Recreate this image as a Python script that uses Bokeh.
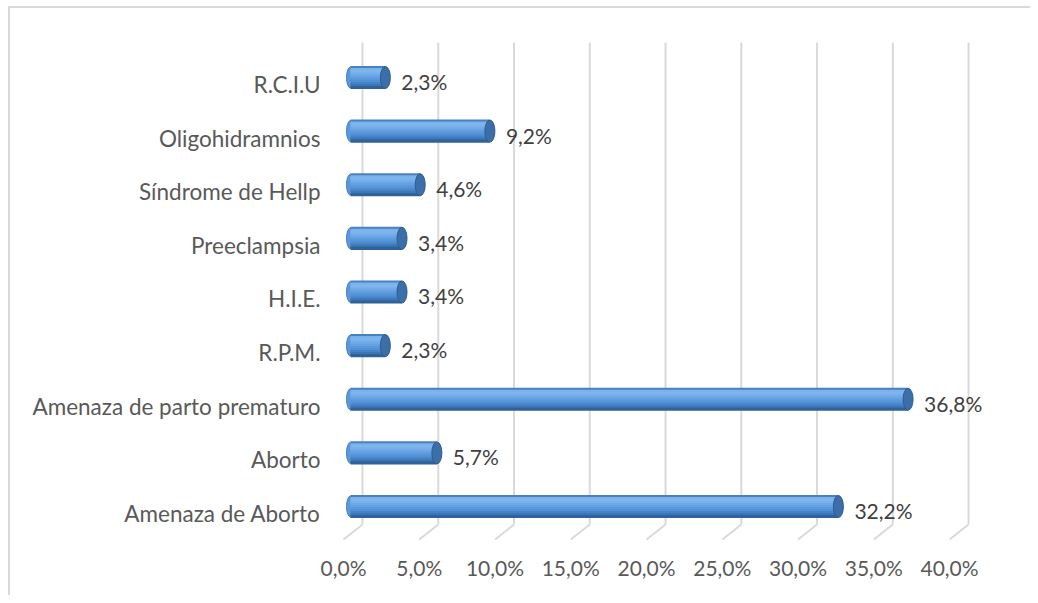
from bokeh.plotting import figure
from bokeh.models import Range1d, LinearAxis, FixedTicker, ColumnDataSource
from bokeh.core.properties import value
from bokeh.embed import file_html
from bokeh.resources import INLINE

# ---- data ----
categories = ["Amenaza de Aborto", "Aborto", "Amenaza de parto prematuro", "R.P.M.",
              "H.I.E.", "Preeclampsia", "Síndrome de Hellp", "Oligohidramnios", "R.C.I.U"]
values = [32.2, 5.7, 36.8, 2.3, 3.4, 3.4, 4.6, 9.2, 2.3]
x_ticks = [0, 5, 10, 15, 20, 25, 30, 35, 40]

def pct(v):
    return f"{v:.1f}%".replace(".", ",")

FONT = "Lato"
ROW_PX = 53.625
PX_PER_UNIT = 15.15

pos = list(range(len(categories)))

x_start, x_end = -0.924, 43.56
y_start, y_end = -0.727, 8.876
p = figure(width=1030, height=595, output_backend="svg", toolbar_location=None,
           x_range=Range1d(x_start, x_end), y_range=Range1d(y_start, y_end),
           min_border_left=336, min_border_right=20, min_border_top=30, min_border_bottom=50,
           x_axis_location=None, y_axis_location=None)
p.outline_line_color = None
p.xgrid.visible = False
p.ygrid.visible = False
p.background_fill_color = "white"
p.border_fill_color = None
line_bg = "linear-gradient(#d9d9d9,#d9d9d9)"
p.styles = {"background": f"{line_bg} 8px 6px / 2px 600px no-repeat, "
                          f"{line_bg} 8px 6px / 1030px 2px no-repeat, white"}

# ---- gridlines with 3D floor (back wall -> front) ----
back_shift = 12 / PX_PER_UNIT
front_shift = -7 / PX_PER_UNIT
y_top = (506 - 42) / ROW_PX
y_wall = (506 - 524) / ROW_PX
y_front = (506 - 539) / ROW_PX
gx_back = [t + back_shift for t in x_ticks]
gx_front = [t + front_shift for t in x_ticks]
p.segment(x0=gx_back, y0=[y_top] * len(x_ticks), x1=gx_back, y1=[y_wall] * len(x_ticks),
          line_color="#d9d9d9", line_width=2)
p.segment(x0=gx_back, y0=[y_wall] * len(x_ticks), x1=gx_front, y1=[y_front] * len(x_ticks),
          line_color="#d9d9d9", line_width=2)

# ---- x axis labels (front plane) ----
p.extra_x_ranges = {"front": Range1d(x_start - front_shift, x_end - front_shift)}
xaxis = LinearAxis(x_range_name="front", ticker=FixedTicker(ticks=x_ticks))
xaxis.major_label_overrides = {t: pct(t) for t in x_ticks}
xaxis.axis_line_color = None
xaxis.major_tick_line_color = None
xaxis.minor_tick_line_color = None
xaxis.major_label_text_font = FONT
xaxis.major_label_text_font_size = "21px"
xaxis.major_label_text_color = "#595959"
xaxis.major_label_standoff = 3
p.add_layout(xaxis, "below")

# ---- y axis (categories), labels sit slightly below bar centres ----
lab_shift = 7 / ROW_PX
p.extra_y_ranges = {"lab": Range1d(y_start + lab_shift, y_end + lab_shift)}
yaxis = LinearAxis(y_range_name="lab", ticker=FixedTicker(ticks=pos))
yaxis.major_label_overrides = {i: c for i, c in zip(pos, categories)}
yaxis.axis_line_color = None
yaxis.major_tick_line_color = None
yaxis.minor_tick_line_color = None
yaxis.major_label_text_font = FONT
yaxis.major_label_text_font_size = "22.5px"
yaxis.major_label_text_color = "#595959"
yaxis.major_label_standoff = 10
p.add_layout(yaxis, "left")

# ---- cylinders ----
BAR_PX = 22
bar_h = BAR_PX / ROW_PX
zeros = [0] * len(values)

# left rounded end
p.ellipse(x=zeros, y=pos, width=8, height=BAR_PX - 1, width_units="screen",
          height_units="screen", fill_color="#5a98dc", line_color="#4a80bf", line_width=1)

stripe_colors = ["#4a80bf", "#7ab2ec", "#80b6ee", "#78b0eb", "#6ea8e7", "#64a0e2",
                 "#5a98dc", "#5190d4", "#4784c7", "#3c76b5", "#2f6299"]
n = len(stripe_colors)
sh = bar_h / n
for k, col in enumerate(stripe_colors):
    off = bar_h / 2 - sh * (k + 0.5)
    p.hbar(y=[y + off for y in pos], left=zeros, right=values, height=sh * 1.6,
           fill_color=col, line_color=None)

# right end cap
p.ellipse(x=values, y=pos, width=10, height=BAR_PX, width_units="screen",
          height_units="screen", fill_color="#3c6fa8", line_color="#2d5b91", line_width=1)

# value labels
src = ColumnDataSource(dict(x=values, y=pos, t=[pct(v) for v in values]))
p.text(x="x", y="y", text="t", source=src, x_offset=16, y_offset=4,
       text_font=value(FONT), text_font_size="21px", text_color="#404040",
       text_baseline="middle", text_align="left")

open("out.html", "w").write(file_html(p, INLINE))
